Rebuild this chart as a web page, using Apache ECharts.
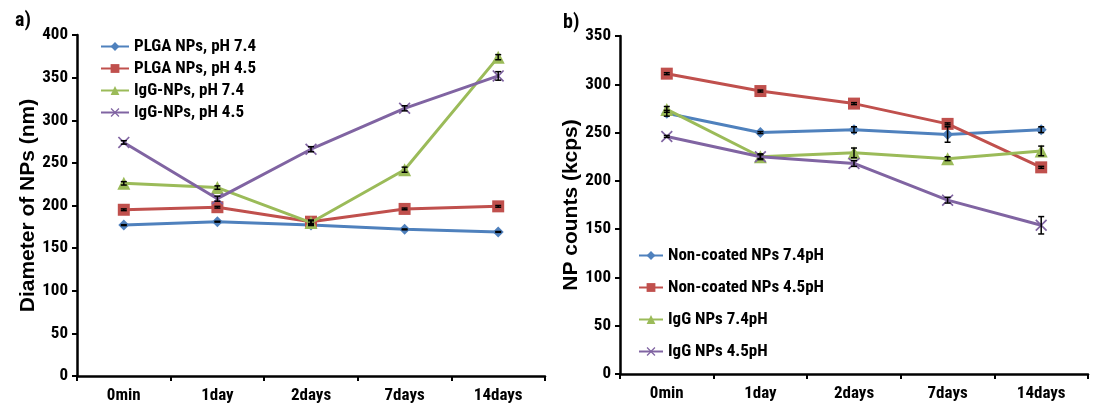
<!DOCTYPE html>
<html><head><meta charset="utf-8">
<script src="https://cdn.jsdelivr.net/npm/echarts@6/dist/echarts.min.js"></script>
<style>html,body{margin:0;padding:0;background:#fff}#c{width:1101px;height:406px}</style>
</head><body><div id="c"></div>
<script>
const categories = ['0min', '1day', '2days', '7days', '14days'];

// Panel a) Diameter of NPs (nm)
const namesA = ['PLGA NPs, pH 7.4', 'PLGA NPs, pH 4.5', 'IgG-NPs, pH 7.4', 'IgG-NPs, pH 4.5'];
const plga74 = [177, 181, 177, 172, 169];
const plga45 = [195, 198, 181, 196, 199];
const igg74A = [226, 221, 180, 242, 374];
const igg45A = [274, 208, 266, 314, 352];
const errPlga74 = [0.5, 0.5, 0.5, 0.5, 0.5];
const errPlga45 = [1, 1, 2, 1, 1];
const errIgg74A = [2, 2, 2, 3, 3];
const errIgg45A = [2, 3, 3, 3, 5];

// Panel b) NP counts (kcps)
const namesB = ['Non-coated NPs 7.4pH', 'Non-coated NPs 4.5pH', 'IgG NPs 7.4pH', 'IgG NPs 4.5pH'];
const nc74 = [270, 250, 253, 248, 253];
const nc45 = [311, 293, 280, 259, 214];
const igg74B = [274, 225, 229, 223, 231];
const igg45B = [246, 225, 218, 180, 154];
const errNc74 = [3, 1, 3, 8, 3];
const errNc45 = [1, 1, 1, 1, 1];
const errIgg74B = [3, 3, 5, 2, 5];
const errIgg45B = [1, 2, 3, 3, 9];

const colors = ['#4F81BD', '#C0504D', '#9BBB59', '#8064A2'];
const xPath = 'path://M0,1L1,0L5,4L9,0L10,1L6,5L10,9L9,10L5,6L1,10L0,9L4,5Z';
const symbols = ['diamond', 'rect', 'triangle', xPath];
const symSizes = [11, 12, 13, 12];
const FONT = '"Roboto Condensed", "Liberation Sans Narrow", Arial, sans-serif';

function lineSeries(name, data, i, gi) {
  return {
    type: 'line', name: name, data: data, xAxisIndex: gi, yAxisIndex: gi,
    symbol: symbols[i], symbolSize: symSizes[i], showSymbol: true,
    lineStyle: { color: colors[i], width: 3 },
    itemStyle: { color: colors[i] },
    z: 3 + i
  };
}
function errSeries(vals, errs, gi) {
  return {
    type: 'custom', xAxisIndex: gi, yAxisIndex: gi, z: 10, silent: true,
    data: vals.map((v, k) => [k, v, errs[k]]),
    renderItem: function (params, api) {
      const x = api.value(0), v = api.value(1), e = api.value(2);
      const hi = api.coord([x, v + e]);
      const lo = api.coord([x, v - e]);
      const cw = 3;
      const st = { stroke: '#000', lineWidth: 1.5 };
      return { type: 'group', children: [
        { type: 'line', shape: { x1: hi[0], y1: hi[1], x2: lo[0], y2: lo[1] }, style: st },
        { type: 'line', shape: { x1: hi[0] - cw, y1: hi[1], x2: hi[0] + cw, y2: hi[1] }, style: st },
        { type: 'line', shape: { x1: lo[0] - cw, y1: lo[1], x2: lo[0] + cw, y2: lo[1] }, style: st }
      ]};
    }
  };
}
const axisLabelStyle = { color: '#000', fontWeight: 'bold', fontSize: 17, fontFamily: FONT };
function xAxis(gi) {
  return {
    type: 'category', gridIndex: gi, data: categories, boundaryGap: true,
    axisLine: { lineStyle: { color: '#000', width: 2.5 } },
    axisTick: { show: true, length: 5, lineStyle: { color: '#000', width: 2 } },
    axisLabel: Object.assign({ margin: 11 }, axisLabelStyle),
    splitLine: { show: false }
  };
}
function yAxis(gi, max, name) {
  return {
    type: 'value', gridIndex: gi, min: 0, max: max, interval: 50,
    name: name, nameLocation: 'middle', nameGap: 37,
    nameTextStyle: { color: '#000', fontWeight: 'bold', fontSize: 21, fontFamily: '"Liberation Sans", Arial, sans-serif' },
    axisLine: { show: true, lineStyle: { color: '#000', width: 2.5 } },
    axisTick: { show: true, length: 5, lineStyle: { color: '#000', width: 2 } },
    axisLabel: Object.assign({ margin: 9 }, axisLabelStyle),
    splitLine: { show: false }
  };
}
const legendText = { color: '#000', fontWeight: 'bold', fontSize: 17, fontFamily: FONT };

const option = {
  animation: false,
  backgroundColor: '#fff',
  title: [
    { text: 'a)', left: 10, top: 6, textStyle: { fontSize: 20, fontWeight: 'bold', color: '#000', fontFamily: FONT } },
    { text: 'b)', left: 558, top: 8, textStyle: { fontSize: 20, fontWeight: 'bold', color: '#000', fontFamily: FONT } }
  ],
  grid: [
    { left: 77, top: 35, width: 468, height: 341 },
    { left: 620, top: 36, width: 468, height: 338 }
  ],
  xAxis: [xAxis(0), xAxis(1)],
  yAxis: [yAxis(0, 400, 'Diameter of NPs (nm)'), yAxis(1, 350, 'NP counts (kcps)')],
  legend: [
    { data: namesA, orient: 'vertical', left: 100, top: 38, itemGap: 5, itemWidth: 28, itemHeight: 11,
      textStyle: legendText, padding: 0 },
    { data: namesB, orient: 'vertical', left: 638, top: 247, itemGap: 15, itemWidth: 24, itemHeight: 11,
      textStyle: legendText, padding: 0 }
  ],
  series: [
    lineSeries(namesA[0], plga74, 0, 0),
    lineSeries(namesA[1], plga45, 1, 0),
    lineSeries(namesA[2], igg74A, 2, 0),
    lineSeries(namesA[3], igg45A, 3, 0),
    errSeries(plga74, errPlga74, 0),
    errSeries(plga45, errPlga45, 0),
    errSeries(igg74A, errIgg74A, 0),
    errSeries(igg45A, errIgg45A, 0),
    lineSeries(namesB[0], nc74, 0, 1),
    lineSeries(namesB[1], nc45, 1, 1),
    lineSeries(namesB[2], igg74B, 2, 1),
    lineSeries(namesB[3], igg45B, 3, 1),
    errSeries(nc74, errNc74, 1),
    errSeries(nc45, errNc45, 1),
    errSeries(igg74B, errIgg74B, 1),
    errSeries(igg45B, errIgg45B, 1)
  ]
};
echarts.init(document.getElementById('c')).setOption(option);
</script></body></html>
